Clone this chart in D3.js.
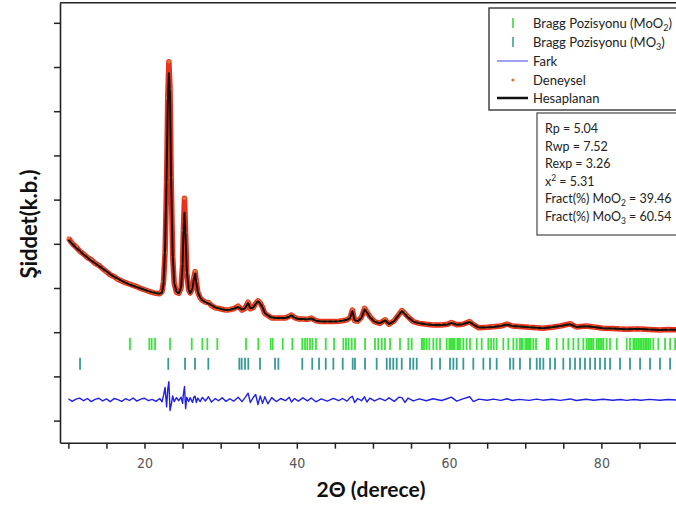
<!DOCTYPE html>
<html><head><meta charset="utf-8">
<script src="https://cdn.jsdelivr.net/npm/d3@7"></script>
<style>body{margin:0;background:#fff}svg{display:block}</style>
</head><body>
<script>
// 2-theta grid (degrees)
const twoTheta = [
  10.0, 10.5, 11.0, 11.5, 12.0, 12.5, 13.0, 13.5, 14.0, 14.5,
  15.0, 15.5, 16.0, 16.5, 17.0, 17.5, 18.0, 18.5, 19.0, 19.5,
  20.0, 20.5, 21.0, 21.5, 22.0, 22.3, 22.5, 22.7, 22.9, 23.05,
  23.2, 23.35, 23.5, 23.7, 23.9, 24.2, 24.5, 24.8, 25.0, 25.1,
  25.25, 25.4, 25.55, 25.8, 26.0, 26.3, 26.5, 26.65, 26.8, 27.0,
  27.3, 27.6, 28.0, 28.4, 28.8, 29.3, 29.7, 30.2, 30.7, 31.2,
  31.7, 32.3, 32.8, 33.2, 33.6, 33.9, 34.3, 34.6, 34.9, 35.2,
  35.5, 35.8, 36.2, 36.7, 37.3, 37.9, 38.5, 39.0, 39.3, 39.7,
  40.2, 40.8, 41.4, 41.9, 42.5, 43.2, 44.0, 44.8, 45.5, 46.0,
  46.6, 47.0, 47.3, 47.6, 48.0, 48.5, 48.9, 49.2, 49.6, 50.2,
  50.9, 51.6, 52.1, 52.8, 53.4, 53.8, 54.2, 54.6, 55.3, 56.1,
  57.0, 57.9, 59.0, 59.8, 60.3, 61.0, 61.8, 62.7, 63.2, 63.9,
  65.0, 65.8, 66.8, 67.6, 68.3, 69.2, 70.5, 71.5, 72.3, 73.5,
  74.6, 75.9, 76.7, 78.0, 79.0, 80.2, 81.5, 82.5, 83.3, 84.3,
  85.2, 86.3, 87.7, 88.8, 90.0
];
// Deneysel (observed) intensity
const observed = [
  4130, 4010, 3930, 3830, 3770, 3690, 3640, 3560, 3510, 3440,
  3370, 3300, 3260, 3200, 3160, 3120, 3090, 3060, 3030, 2990,
  2960, 2930, 2900, 2880, 2870, 2920, 3150, 3800, 5400, 7300,
  8120, 7500, 5500, 3700, 3100, 2900, 2880, 3000, 3550, 4300,
  5030, 4250, 3350, 2950, 2890, 3000, 3250, 3370, 3150, 2900,
  2780, 2720, 2680, 2670, 2600, 2550, 2540, 2520, 2500, 2510,
  2530, 2590, 2500, 2540, 2680, 2530, 2560, 2650, 2710, 2660,
  2560, 2420, 2380, 2320, 2320, 2320, 2320, 2360, 2390, 2330,
  2300, 2300, 2290, 2320, 2260, 2240, 2240, 2240, 2250, 2260,
  2280, 2330, 2500, 2260, 2250, 2340, 2540, 2460, 2350, 2240,
  2200, 2280, 2180, 2260, 2400, 2490, 2420, 2350, 2240, 2200,
  2180, 2165, 2165, 2180, 2220, 2170, 2180, 2240, 2170, 2100,
  2110, 2125, 2140, 2185, 2140, 2130, 2110, 2100, 2090, 2110,
  2140, 2190, 2120, 2140, 2120, 2090, 2085, 2075, 2065, 2070,
  2070, 2060, 2050, 2060, 2055
];
// Hesaplanan (calculated) intensity
const calculated = [
  4090, 4000, 3910, 3840, 3760, 3690, 3620, 3560, 3500, 3440,
  3380, 3310, 3260, 3210, 3160, 3120, 3080, 3050, 3020, 2990,
  2960, 2930, 2905, 2885, 2870, 2900, 3100, 3900, 5500, 7100,
  7860, 7350, 5400, 3750, 3120, 2910, 2880, 3010, 3500, 4200,
  4700, 4150, 3400, 2960, 2880, 2990, 3220, 3330, 3120, 2910,
  2790, 2720, 2680, 2650, 2610, 2560, 2540, 2520, 2500, 2510,
  2530, 2570, 2510, 2540, 2660, 2540, 2560, 2640, 2700, 2650,
  2560, 2430, 2380, 2330, 2320, 2320, 2320, 2350, 2380, 2330,
  2300, 2300, 2290, 2310, 2260, 2240, 2240, 2240, 2250, 2260,
  2280, 2320, 2480, 2270, 2250, 2330, 2520, 2450, 2340, 2240,
  2200, 2270, 2185, 2250, 2390, 2480, 2410, 2340, 2240, 2200,
  2180, 2165, 2165, 2175, 2210, 2170, 2180, 2230, 2170, 2105,
  2110, 2120, 2140, 2175, 2140, 2130, 2110, 2100, 2090, 2110,
  2140, 2180, 2120, 2135, 2120, 2090, 2085, 2075, 2065, 2070,
  2070, 2060, 2050, 2058, 2055
];
// Fark (difference), plotted around an offset baseline
const difference = [
  25, -35, 15, 40, -20, 30, -40, 10, 35, -25,
  20, -40, 30, 5, -35, 25, -15, 40, -30, 15,
  35, -20, 10, -35, 30, -45, 100, 280, -160, 240,
  410, -240, -120, 90, -40, 50, -20, 60, -80, 120,
  300, -200, 60, -40, 50, -60, 70, 80, -60, 40,
  -40, 55, -25, 70, -50, 30, -20, 45, -35, 25,
  -30, 60, -40, 50, 150, -60, 60, 120, -110, 90,
  -80, 70, -90, 50, -40, 30, -20, 60, -50, 30,
  -30, 45, -25, 40, -45, 20, -30, 35, -20, 30,
  -30, 50, 80, -60, 30, -20, 70, -50, 40, -25,
  35, -20, 45, -35, 60, 50, -60, 40, -25, 20,
  -20, 25, -15, 30, 60, -30, 20, 70, -40, 15,
  -10, 15, -12, 25, -15, 10, -12, 15, -8, 12,
  -12, 20, -15, 12, -8, 12, -10, 8, -12, 8,
  -8, 10, -8, 8, -6
];
const diffOffset = 470;
// Bragg positions (2-theta)
const braggMoO2 = [
  18.09, 20.63, 20.94, 21.38, 23.35, 26.2, 27.59, 28.25, 29.56, 33.33,
  34.94, 36.57, 36.83, 38.15, 39.41, 40.72, 41.08, 41.38, 41.73, 42.04,
  42.52, 43.8, 44.89, 46.11, 46.46, 46.82, 47.21, 47.64, 48.96, 50.27,
  50.7, 51.15, 51.58, 52.24, 53.55, 54.65, 55.09, 56.4, 56.55, 56.71,
  57.06, 57.4, 57.93, 58.37, 58.81, 59.69, 60.03, 60.2, 60.38, 60.55,
  60.74, 61.08, 61.25, 61.43, 61.87, 62.31, 62.75, 63.63, 64.28, 65.15,
  65.51, 65.86, 66.25, 67.12, 67.78, 68.44, 68.88, 69.31, 69.5, 69.67,
  70.01, 70.2, 70.37, 70.55, 70.72, 71.06, 71.42, 72.82, 73.03, 74.13,
  75.0, 75.66, 76.32, 76.97, 77.63, 78.07, 78.3, 78.51, 78.75, 78.95,
  79.39, 79.6, 79.82, 80.05, 80.26, 80.7, 81.14, 82.02, 83.33, 83.76,
  84.2, 84.4, 84.64, 84.85, 85.08, 85.3, 85.52, 85.75, 85.95, 86.15,
  86.39, 86.82, 87.48, 88.36, 89.02, 89.68
];
const braggMoO3 = [
  11.53, 23.12, 25.32, 26.63, 28.38, 32.45, 32.76, 33.2, 33.63, 35.17,
  37.14, 37.58, 40.72, 42.03, 42.92, 43.8, 44.8, 46.03, 47.34, 47.64,
  48.96, 50.49, 51.81, 52.24, 52.67, 53.12, 53.78, 54.87, 55.3, 55.75,
  57.72, 58.81, 60.12, 60.56, 61.0, 61.87, 63.18, 64.5, 65.37, 66.25,
  68.0, 68.44, 69.31, 70.63, 71.51, 71.94, 72.38, 73.26, 73.91, 75.0,
  75.88, 76.54, 77.2, 77.85, 78.51, 79.17, 79.82, 80.48, 81.14, 82.45,
  83.76, 85.08, 86.39, 87.7, 89.02
];
const xTicks = [10, 15, 20, 25, 30, 35, 40, 45, 50, 55, 60, 65, 70, 75, 80, 85];
const xTickLabels = [20, 40, 60, 80];
const yTicks = [0, 1000, 2000, 3000, 4000, 5000, 6000, 7000, 8000, 9000];
const legendLabels = ["Bragg Pozisyonu (MoO", "Bragg Pozisyonu (MO", "Fark", "Deneysel", "Hesaplanan"];
const statLabels = ["Rp = 5.04", "Rwp = 7.52", "Rexp = 3.26", "x", "Fract(%) MoO", "Fract(%) MoO"];

const svg = d3.select("body").append("svg").attr("width", 676).attr("height", 506);
const x = d3.scaleLinear().domain([8.9, 89.8]).range([60, 676]);
const y = d3.scaleLinear().domain([-500, 9455]).range([442.7, 2.7]);

svg.append("defs").append("clipPath").attr("id", "clip")
  .append("rect").attr("x", 60).attr("y", 2.7).attr("width", 640).attr("height", 440);
const g = svg.append("g").attr("clip-path", "url(#clip)");

const lineGen = (arr, off) => d3.line()
  .x((d, i) => x(twoTheta[i])).y(d => y(d + off))(arr);

// Observed band
g.append("path").attr("d", lineGen(observed, 0)).attr("fill", "none")
  .attr("stroke", "#e8321e").attr("stroke-width", 5.5).attr("stroke-linejoin", "round");
g.selectAll("circle.obs").data(observed).join("circle").attr("class", "obs")
  .attr("cx", (d, i) => x(twoTheta[i])).attr("cy", d => y(d)).attr("r", 1.8).attr("fill", "#e07a30");
// Calculated
g.append("path").attr("d", lineGen(calculated, 0)).attr("fill", "none")
  .attr("stroke", "#111").attr("stroke-width", 2).attr("stroke-linejoin", "round");

// Bragg markers
g.selectAll("line.b2").data(braggMoO2).join("line").attr("class", "b2")
  .attr("x1", d => x(d)).attr("x2", d => x(d)).attr("y1", y(1870)).attr("y2", y(1600))
  .attr("stroke", "#3de33d").attr("stroke-width", 1.8);
g.selectAll("line.b3").data(braggMoO3).join("line").attr("class", "b3")
  .attr("x1", d => x(d)).attr("x2", d => x(d)).attr("y1", y(1420)).attr("y2", y(1150))
  .attr("stroke", "#22908c").attr("stroke-width", 1.8).attr("opacity", 0.9);

// Difference
g.append("path").attr("d", lineGen(difference, diffOffset)).attr("fill", "none")
  .attr("stroke", "#2020e6").attr("stroke-width", 1.4).attr("stroke-linejoin", "round");

// Axes
const xAxis = d3.axisBottom(x).tickValues(xTicks).tickSize(6).tickSizeOuter(0)
  .tickFormat(d => xTickLabels.includes(d) ? d : "").tickPadding(9);
const gx = svg.append("g").attr("transform", "translate(0,442.7)").call(xAxis);
gx.selectAll("text").attr("font-family", "'DejaVu Sans Condensed','Liberation Sans Narrow',sans-serif")
  .attr("font-stretch", "condensed").attr("font-size", 14).attr("fill", "#555");
const yAxis = d3.axisLeft(y).tickValues(yTicks).tickSize(6).tickSizeOuter(0).tickFormat("");
const gy = svg.append("g").attr("transform", "translate(60,0)").call(yAxis);
[gx, gy].forEach(a => {
  a.select(".domain").attr("stroke", "#222").attr("stroke-width", 1.6);
  a.selectAll(".tick line").attr("stroke", "#222").attr("stroke-width", 1.5);
});
svg.append("line").attr("x1", 60).attr("x2", 676).attr("y1", 2.7).attr("y2", 2.7)
  .attr("stroke", "#222").attr("stroke-width", 1.6);

// Axis titles
svg.append("text").attr("transform", "translate(37,224) rotate(-90)").attr("text-anchor", "middle")
  .attr("font-family", "Lato, 'Open Sans', sans-serif").attr("font-weight", "bold").attr("font-size", 22)
  .attr("fill", "#111").text("Şiddet(k.b.)");
svg.append("text").attr("x", 371).attr("y", 497).attr("text-anchor", "middle")
  .attr("font-family", "Lato, 'Open Sans', sans-serif").attr("font-weight", "bold").attr("font-size", 21)
  .attr("fill", "#111").text("2Θ (derece)");

// Legend
const font = "Lato, 'Open Sans', sans-serif";
svg.append("rect").attr("x", 489).attr("y", 8).attr("width", 200).attr("height", 102)
  .attr("fill", "#fff").attr("stroke", "#444").attr("stroke-width", 1.5);
const rowsY = [23, 42, 61, 80, 98];
const lg = svg.append("g");
lg.append("line").attr("x1", 513).attr("x2", 513).attr("y1", rowsY[0] - 5).attr("y2", rowsY[0] + 5)
  .attr("stroke", "#55dd55").attr("stroke-width", 1.8);
lg.append("line").attr("x1", 513).attr("x2", 513).attr("y1", rowsY[1] - 5).attr("y2", rowsY[1] + 5)
  .attr("stroke", "#5aa8a8").attr("stroke-width", 1.8);
lg.append("line").attr("x1", 497).attr("x2", 528).attr("y1", rowsY[2]).attr("y2", rowsY[2])
  .attr("stroke", "#6c6cf0").attr("stroke-width", 1.3);
lg.append("circle").attr("cx", 513).attr("cy", rowsY[3]).attr("r", 1.6).attr("fill", "#d9772e");
lg.append("line").attr("x1", 497).attr("x2", 528).attr("y1", rowsY[4]).attr("y2", rowsY[4])
  .attr("stroke", "#111").attr("stroke-width", 2.5);
legendLabels.forEach((t, i) => {
  const tx = lg.append("text").attr("x", 533).attr("y", rowsY[i]).attr("dy", "0.35em")
    .attr("font-family", font).attr("font-size", 13).attr("fill", "#222");
  tx.append("tspan").text(t);
  if (i === 0 || i === 1) {
    tx.append("tspan").attr("dy", 3).attr("font-size", 9).text(i === 0 ? "2" : "3");
    tx.append("tspan").attr("dy", -3).text(")");
  }
});

// Stats box
svg.append("rect").attr("x", 537).attr("y", 113).attr("width", 150).attr("height", 122)
  .attr("fill", "#fff").attr("stroke", "#555").attr("stroke-width", 1.3);
const statY = [129, 146.5, 164, 181.5, 199, 216.5];
statLabels.forEach((t, i) => {
  const tx = svg.append("text").attr("x", 545).attr("y", statY[i]).attr("dy", "0.35em")
    .attr("font-family", font).attr("font-size", 12.5).attr("fill", "#222");
  tx.append("tspan").text(t);
  if (i === 3) {
    tx.append("tspan").attr("dy", -5).attr("font-size", 8.5).text("2");
    tx.append("tspan").attr("dy", 5).text(" = 5.31");
  } else if (i === 4 || i === 5) {
    tx.append("tspan").attr("dy", 3).attr("font-size", 8.5).text(i === 4 ? "2" : "3");
    tx.append("tspan").attr("dy", -3).text(i === 4 ? " = 39.46" : " = 60.54");
  }
});
</script>
</body></html>
